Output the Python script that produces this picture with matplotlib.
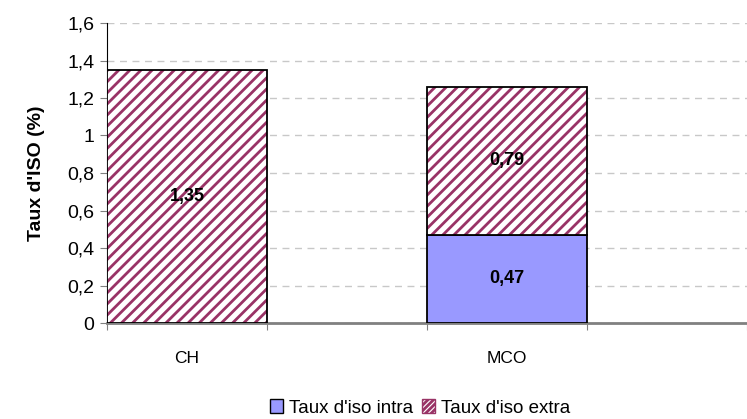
import matplotlib
matplotlib.use("Agg")
import matplotlib.pyplot as plt
import numpy as np
from matplotlib.patches import Patch

categories = ["CH", "MCO"]
intra = [0.0, 0.47]
extra = [1.35, 0.79]
intra_labels = ["", "0,47"]
extra_labels = ["1,35", "0,79"]
yticks = [0, 0.2, 0.4, 0.6, 0.8, 1, 1.2, 1.4, 1.6]
ytick_labels = ["0", "0,2", "0,4", "0,6", "0,8", "1", "1,2", "1,4", "1,6"]

plt.rcParams['font.family'] = ['Liberation Sans', 'DejaVu Sans']
plt.rcParams['hatch.linewidth'] = 2.0

fig = plt.figure(figsize=(7.47, 4.19), dpi=100)
ax = fig.add_axes([107 / 747, 1 - 323 / 419, 640 / 747, 300 / 419])

x = np.arange(len(categories)) * 2  # every other slot is empty, bars fill their slot
intra_col = "#9999ff"
extra_col = "#993366"

ax.bar(x, intra, width=1, color=intra_col, edgecolor="black", linewidth=1.3, zorder=3)
# hatched part: stripes first, then black outline on top
ax.bar(x, extra, width=1, bottom=intra, color="white", edgecolor=extra_col,
       hatch="///", linewidth=0, zorder=3)
ax.bar(x, extra, width=1, bottom=intra, fill=False, edgecolor="black", linewidth=1.3, zorder=4)

for i in range(len(categories)):
    if intra_labels[i]:
        ax.text(x[i], intra[i] / 2, intra_labels[i], ha="center", va="center",
                fontsize=13, fontweight="bold", zorder=5)
    ax.text(x[i], intra[i] + extra[i] / 2, extra_labels[i], ha="center", va="center",
            fontsize=13, fontweight="bold", zorder=5)

ax.set_ylim(0, 1.6)
ax.set_xlim(-0.5, 3.45)
ax.set_yticks(yticks)
ax.set_yticklabels(ytick_labels, fontsize=14)
ax.yaxis.grid(True, linestyle=(0, (5, 4)), color="#c8c8c8", linewidth=1)
ax.set_axisbelow(True)

# category boundaries as major ticks, names on minor ticks at bar centres
ax.set_xticks(np.arange(-0.5, 4, 1))
ax.set_xticklabels([])
ax.set_xticks(x, minor=True)
ax.set_xticklabels(categories, minor=True, fontsize=12.5)
ax.tick_params(axis="x", which="minor", length=0, pad=20)
ax.tick_params(axis="x", which="major", length=5, color="#808080")
ax.tick_params(axis="y", length=5, color="#808080", pad=4)

ax.spines["top"].set_visible(False)
ax.spines["right"].set_visible(False)
ax.spines["bottom"].set_color("#808080")
ax.spines["bottom"].set_linewidth(2)
ax.spines["left"].set_color("black")

ax.set_ylabel("Taux d'ISO (%)", fontsize=14, fontweight="bold", labelpad=16)

handles = [Patch(facecolor=intra_col, edgecolor="black", label="Taux d'iso intra"),
           Patch(facecolor="white", edgecolor=extra_col, hatch="//////", label="Taux d'iso extra")]
fig.legend(handles=handles, loc="center", bbox_to_anchor=(420 / 747, 1 - 408 / 419), ncol=2,
           frameon=False, fontsize=13.5, handlelength=0.7, handleheight=0.7,
           handletextpad=0.3, columnspacing=0.5)

fig.savefig("out.png", dpi=100)
